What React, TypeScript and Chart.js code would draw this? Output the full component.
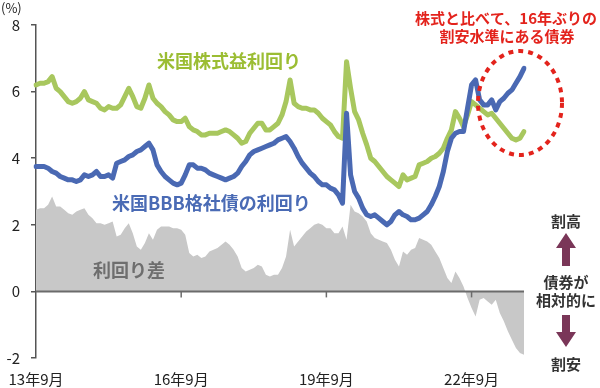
import React, { useEffect, useRef } from "react";
import { Chart, registerables } from "chart.js";

Chart.register(...registerables);

// Monthly, Sep 2013 .. Oct 2023
const months: string[] = [];
for (let k = 0; k < 122; k++) {
  const m = ((8 + k) % 12) + 1;
  const yy = 13 + Math.floor((8 + k) / 12);
  months.push(`${yy}年${m}月`);
}
const tickLabels = ["13年9月", "16年9月", "19年9月", "22年9月"];
const yTicks = [-2, 0, 2, 4, 6, 8];

// 米国株式益利回り (%)
const earningsYield = [
  6.2, 6.25, 6.25, 6.3, 6.45, 6.1, 6.0, 5.85, 5.7, 5.65, 5.7, 5.8,
  6.0, 5.75, 5.7, 5.65, 5.5, 5.45, 5.55, 5.5, 5.5, 5.6, 5.85, 6.1,
  5.85, 5.55, 5.5, 5.8, 6.2, 5.8, 5.65, 5.55, 5.4, 5.3, 5.15, 5.1,
  5.1, 5.2, 4.95, 4.85, 4.8, 4.7, 4.7, 4.75, 4.75, 4.75, 4.8, 4.85,
  4.8, 4.7, 4.6, 4.45, 4.5, 4.75, 4.9, 5.05, 5.05, 4.85, 4.85, 4.95,
  5.05, 5.3, 5.7, 6.35, 5.65, 5.55, 5.5, 5.5, 5.45, 5.45, 5.35, 5.2,
  5.1, 5.0, 4.8, 4.65, 4.6, 6.9, 6.1, 5.4, 5.15, 4.75, 4.4, 4.0,
  3.9, 3.75, 3.6, 3.45, 3.35, 3.25, 3.15, 3.5, 3.35, 3.4, 3.45, 3.8,
  3.85, 3.9, 4.0, 4.05, 4.15, 4.3, 4.6, 4.85, 5.4, 5.2, 4.95, 5.3,
  5.7, 5.6, 5.5, 5.4, 5.3, 5.35, 5.2, 5.05, 4.9, 4.75, 4.6, 4.55,
  4.6, 4.8,
];

// 米国BBB格社債の利回り (%)
const bbbYield = [
  3.75, 3.75, 3.75, 3.7, 3.6, 3.55, 3.45, 3.4, 3.35, 3.35, 3.3, 3.35,
  3.5, 3.45, 3.5, 3.6, 3.45, 3.45, 3.5, 3.4, 3.85, 3.9, 3.95, 4.05,
  4.1, 4.2, 4.25, 4.35, 4.45, 4.25, 3.8, 3.6, 3.45, 3.35, 3.25, 3.2,
  3.25, 3.5, 3.8, 3.8, 3.7, 3.7, 3.65, 3.55, 3.5, 3.45, 3.4, 3.35,
  3.4, 3.45, 3.55, 3.75, 3.9, 4.1, 4.2, 4.25, 4.3, 4.35, 4.4, 4.45,
  4.55, 4.6, 4.65, 4.5, 4.3, 4.05, 3.85, 3.7, 3.55, 3.45, 3.3, 3.2,
  3.2, 3.1, 3.05, 2.9, 2.65, 5.35, 3.5, 3.0, 2.8, 2.5, 2.3, 2.25,
  2.3, 2.2, 2.1, 2.0, 2.1, 2.3, 2.4, 2.3, 2.25, 2.15, 2.15, 2.2,
  2.3, 2.4, 2.6, 2.85, 3.15, 3.6, 4.2, 4.6, 4.75, 4.8, 4.8, 5.5,
  6.2, 6.35, 5.75, 5.6, 5.6, 5.75, 5.45, 5.7, 5.8, 5.95, 6.05, 6.25,
  6.45, 6.7,
];

// 利回り差 (%pt)
const spread = [
  2.45, 2.5, 2.5, 2.6, 2.85, 2.55, 2.55, 2.45, 2.35, 2.3, 2.4, 2.45,
  2.5, 2.3, 2.2, 2.05, 2.05, 2.0, 2.05, 2.1, 1.65, 1.7, 1.9, 2.05,
  1.75, 1.35, 1.25, 1.45, 1.75, 1.55, 1.85, 1.95, 1.95, 1.95, 1.9, 1.9,
  1.85, 1.7, 1.15, 1.05, 1.1, 1.0, 1.05, 1.2, 1.25, 1.3, 1.4, 1.5,
  1.4, 1.25, 1.05, 0.7, 0.6, 0.65, 0.7, 0.8, 0.75, 0.5, 0.45, 0.5,
  0.5, 0.7, 1.05, 1.85, 1.35, 1.5, 1.65, 1.8, 1.9, 2.0, 2.05, 2.0,
  1.9, 1.9, 1.75, 1.75, 1.95, 1.55, 2.6, 2.4, 2.35, 2.25, 2.1, 1.75,
  1.6, 1.55, 1.5, 1.45, 1.25, 0.95, 0.75, 1.2, 1.1, 1.25, 1.3, 1.6,
  1.55, 1.5, 1.4, 1.2, 1.0, 0.7, 0.4, 0.25, 0.6, 0.4, 0.15, -0.2,
  -0.5, -0.75, -0.25, -0.2, -0.3, -0.4, -0.25, -0.65, -0.9, -1.2, -1.45, -1.7,
  -1.85, -1.9,
];

const JP = '"Noto Sans CJK JP", "Noto Sans", sans-serif';

const overlayPlugin = {
  id: "overlay",
  afterDatasetsDraw(chart: any) {
    const { ctx, chartArea, scales } = chart;
    const x = scales.x;
    const y = scales.y;
    const y0 = y.getPixelForValue(0);
    ctx.save();
    ctx.strokeStyle = "#6b6b6b";
    ctx.lineWidth = 2;
    ctx.beginPath();
    ctx.moveTo(chartArea.left, y0);
    ctx.lineTo(chartArea.right, y0);
    ctx.stroke();
    ctx.lineWidth = 1.5;
    months.forEach((m, i) => {
      if (i > 0 && tickLabels.includes(m)) {
        const px = x.getPixelForValue(i);
        ctx.beginPath();
        ctx.moveTo(px, y0);
        ctx.lineTo(px, y0 + 6);
        ctx.stroke();
      }
    });
    ctx.restore();
  },
  afterDraw(chart: any) {
    const { ctx } = chart;
    ctx.save();
    ctx.textBaseline = "middle";

    ctx.fillStyle = "#222";
    ctx.font = `13px ${JP}`;
    ctx.textAlign = "left";
    ctx.fillText("(%)", 1, 8);

    ctx.font = `bold 18px ${JP}`;
    ctx.fillStyle = "#9bbd33";
    ctx.fillText("米国株式益利回り", 157, 61);
    ctx.fillStyle = "#4a6bb5";
    ctx.fillText("米国BBB格社債の利回り", 112, 203);
    ctx.fillStyle = "#6e6e6e";
    ctx.fillText("利回り差", 93, 270);
    ctx.textAlign = "center";

    ctx.fillStyle = "#e3231c";
    ctx.font = `bold 15px ${JP}`;
    ctx.fillText("株式と比べて、16年ぶりの", 506, 18);
    ctx.fillText("割安水準にある債券", 507, 36);

    // dotted ellipse
    ctx.strokeStyle = "#e3231c";
    ctx.lineWidth = 4;
    ctx.setLineDash([5, 5]);
    ctx.beginPath();
    ctx.ellipse(520, 103, 42, 52, 0, 0, Math.PI * 2);
    ctx.stroke();
    ctx.setLineDash([]);

    // right-side legend
    ctx.fillStyle = "#333";
    ctx.font = `bold 15px ${JP}`;
    const cx = 566;
    ctx.fillText("割高", cx, 221);
    ctx.fillText("債券が", cx, 282);
    ctx.fillText("相対的に", cx, 300);
    ctx.fillText("割安", cx, 364);

    ctx.fillStyle = "#7a3658";
    ctx.beginPath();
    ctx.moveTo(cx, 233);
    ctx.lineTo(cx + 10, 248);
    ctx.lineTo(cx + 4, 248);
    ctx.lineTo(cx + 4, 266);
    ctx.lineTo(cx - 4, 266);
    ctx.lineTo(cx - 4, 248);
    ctx.lineTo(cx - 10, 248);
    ctx.closePath();
    ctx.fill();
    ctx.beginPath();
    ctx.moveTo(cx - 4, 315);
    ctx.lineTo(cx + 4, 315);
    ctx.lineTo(cx + 4, 332);
    ctx.lineTo(cx + 10, 332);
    ctx.lineTo(cx, 347);
    ctx.lineTo(cx - 10, 332);
    ctx.lineTo(cx - 4, 332);
    ctx.closePath();
    ctx.fill();
    ctx.restore();
  },
};

export default function App() {
  const ref = useRef<HTMLCanvasElement>(null);
  useEffect(() => {
    if (!ref.current) return;
    const chart = new Chart(ref.current, {
      type: "line",
      data: {
        labels: months,
        datasets: [
          {
            label: "米国BBB格社債の利回り",
            data: bbbYield,
            borderColor: "#4a69b3",
            borderWidth: 5,
            borderJoinStyle: "round",
            borderCapStyle: "round",
            pointRadius: 0,
            fill: false,
            tension: 0,
            order: 0,
          },
          {
            label: "米国株式益利回り",
            data: earningsYield,
            borderColor: "#a8c75e",
            borderWidth: 5,
            borderJoinStyle: "round",
            borderCapStyle: "round",
            pointRadius: 0,
            fill: false,
            tension: 0,
            order: 1,
          },
          {
            label: "利回り差",
            data: spread,
            borderColor: "#c8c8c8",
            backgroundColor: "#c8c8c8",
            borderWidth: 0,
            pointRadius: 0,
            fill: "origin",
            tension: 0,
            order: 2,
          },
        ],
      },
      options: {
        responsive: false,
        animation: false,
        layout: { padding: { left: 0, right: 76, top: 25, bottom: 0 } },
        plugins: {
          legend: { display: false },
          tooltip: { enabled: false },
        },
        scales: {
          x: {
            type: "category",
            offset: false,
            grid: { display: false },
            border: { display: false },
            ticks: {
              autoSkip: false,
              maxRotation: 0,
              padding: 4,
              color: "#222",
              font: { family: JP, size: 15 },
              callback: (_v: any, i: number) =>
                tickLabels.includes(months[i]) ? months[i] : null,
            },
            afterFit: (s: any) => {
              s.height = 30;
            },
          },
          y: {
            min: -2,
            max: 8,
            afterBuildTicks: (s: any) => {
              s.ticks = yTicks.map((v) => ({ value: v }));
            },
            grid: {
              drawOnChartArea: false,
              drawTicks: true,
              tickLength: 5,
              color: "#555",
              lineWidth: 1.5,
            },
            border: { display: true, color: "#555", width: 1.5 },
            ticks: {
              padding: 11,
              color: "#222",
              font: { family: JP, size: 15 },
            },
            afterFit: (s: any) => {
              s.width = 36;
            },
          },
        },
      },
      plugins: [overlayPlugin],
    });
    return () => chart.destroy();
  }, []);
  return (
    <div style={{ position: "fixed", left: 0, top: 0, width: 600, height: 388, background: "#fff" }}>
      <canvas ref={ref} width={600} height={388} />
    </div>
  );
}
